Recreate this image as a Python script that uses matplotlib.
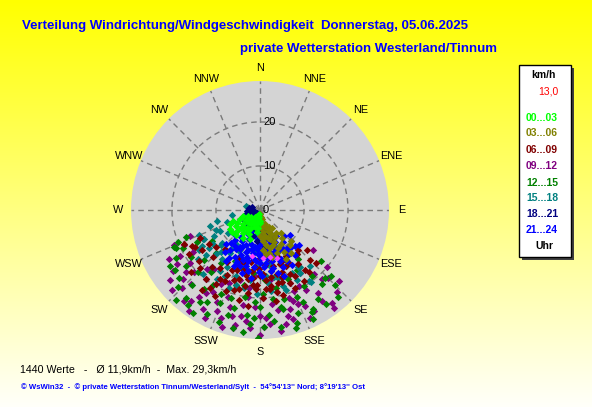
import numpy as np
import matplotlib
matplotlib.use("Agg")
import matplotlib.pyplot as plt
import matplotlib.transforms as mtransforms
from matplotlib.patches import Rectangle

plt.rcParams['font.family'] = ['Liberation Sans', 'DejaVu Sans']

# ---------------- data ----------------
directions16 = ["N", "NNE", "NE", "ENE", "E", "ESE", "SE", "SSE",
                "S", "SSW", "SW", "WSW", "W", "WNW", "NW", "NNW"]
ring_values = [0, 10, 20]
r_max = 29.3

hour_labels = ["00...03", "03...06", "06...09", "09...12",
               "12...15", "15...18", "18...21", "21...24"]
hour_colors = ["#00FF00", "#808000", "#800000", "#800080",
               "#008000", "#008080", "#000080", "#0000FF"]

# wind direction (deg, from N clockwise) and speed (km/h) per 3-hour group
dir_00_03 = [200, 210, 220, 230, 240, 235, 225, 215, 205, 195, 190, 185, 180, 188, 198, 212, 228, 238, 245, 250,
             242, 232, 218, 208, 196, 226, 216, 206, 236, 222, 202, 192, 248, 232, 186, 182, 214, 244, 224, 210]
spd_00_03 = [2, 3, 4, 5, 6, 4, 3, 5, 6, 4, 2, 1.5, 3, 5, 7, 7.5, 7, 8, 5, 4,
             3, 2.5, 2, 1.5, 1, 6, 6.5, 4.5, 6.5, 5.5, 3.5, 3, 6.5, 8.2, 4, 2.5, 3.5, 7.5, 8, 5.5]

dir_03_06 = [178, 175, 170, 165, 160, 172, 178, 168, 162, 155, 150, 145, 175, 170, 165, 160, 155, 148, 142, 138,
             180, 176, 172, 166, 158, 150, 140, 135, 168, 172, 160, 152, 146, 164, 157, 174, 168, 144, 152]
spd_03_06 = [1, 2, 3, 4, 5, 5, 4, 6, 7, 6, 7, 6.5, 7, 8, 9, 8.5, 9.5, 9, 8, 7,
             6, 9, 10, 11, 10.5, 11, 10.5, 10, 2, 1.5, 3.5, 4.5, 5, 6.5, 8, 6.5, 10, 12, 12.5]

dir_06_09 = [150, 155, 160, 165, 170, 175, 180, 185, 190, 195, 200, 205, 210, 215, 220, 225, 230, 235, 240, 245,
             145, 140, 135, 130, 152, 158, 163, 168, 173, 178, 183, 188, 193, 198, 203, 208, 213, 218, 228, 238,
             242, 216, 148, 142, 170, 180, 190, 200, 160, 175, 185, 195, 205, 165, 155, 230, 222, 137, 170, 187,
             152, 157, 162, 167, 172, 177, 182, 187, 192, 197, 202, 207, 212, 156, 166, 176, 186, 196, 206, 161,
             171, 181, 191, 201, 211, 226, 236, 143, 133, 246]
spd_06_09 = [12, 14, 13, 15, 14, 16, 15, 13, 16, 14, 17, 15, 18, 16, 17, 15, 18, 16, 17, 15,
             15, 13, 16, 14, 17, 18, 17, 19, 18, 20, 18, 19, 21, 19, 20, 22, 21, 20, 21, 19,
             17.5, 22.5, 19, 18, 11, 11, 12, 12.5, 11, 12.5, 17, 18.5, 12, 20, 16, 13, 12, 12.5, 21, 22,
             13.5, 12.5, 16, 13, 17.5, 14.5, 17, 14, 15, 16.5, 13.5, 16.5, 14, 19.5, 17, 18, 15.5, 12.5, 18, 15,
             15.5, 13.5, 17.5, 14.5, 19.5, 19, 14, 17, 17.5, 19]

dir_09_12 = [127, 137, 142, 163, 192, 198, 200, 228, 233, 130, 135, 140, 145, 150, 155, 160, 165, 170, 175, 180,
             185, 190, 195, 205, 210, 215, 220, 225, 230, 235, 240, 245, 250, 148, 158, 168, 178, 188, 208, 218,
             238, 210, 222, 172, 184, 196, 155, 170, 180, 145, 232, 215, 200, 162, 190,
             132, 138, 146, 152, 157, 163, 167, 173, 177, 183, 187, 193, 197, 203, 207, 213, 217, 223, 227, 237,
             242, 248, 153, 178, 203, 228, 143, 188, 158, 218]
spd_09_12 = [15, 25.6, 26.7, 26, 26.8, 28, 26, 23.5, 20, 20, 22, 19, 23, 21, 24, 22, 25, 23, 26, 24,
             27, 22, 25, 23, 26, 24, 27, 25, 22, 24, 21, 19, 17, 17, 18, 19, 20, 18, 19, 20,
             18, 21.5, 18, 16, 15, 16.5, 27, 28, 28.5, 15, 26, 28, 21, 21, 24.5,
             24, 21, 25, 26, 20, 23.5, 26.5, 21.5, 24.5, 22, 25.5, 27.5, 23, 25, 27.5, 22.5, 26, 23, 20.5, 22.5,
             23.5, 21, 19.5, 26.5, 18, 27, 28, 20, 23, 17]

dir_12_15 = [247, 181, 136, 154, 246, 235, 213, 188, 130, 135, 140, 145, 150, 155, 160, 165, 170, 175, 180, 185,
             190, 195, 200, 205, 210, 215, 220, 225, 230, 240, 250, 243, 236, 228, 218, 208, 198, 168, 158, 148,
             142, 176, 186, 196, 206, 216, 226, 160, 170, 150, 237, 192, 178, 163, 172,
             133, 138, 147, 152, 157, 162, 167, 173, 178, 183, 187, 193, 197, 203, 207, 212, 217, 222, 227, 233,
             238, 244, 249, 142, 168, 198, 223, 153, 183, 213]
spd_12_15 = [21.3, 29, 21.4, 27.5, 21, 23.6, 25, 28, 18, 24, 22, 26, 20, 23, 25, 21, 27, 24, 22, 26,
             20, 23, 27, 21, 24, 22, 26, 20, 24, 22, 18, 16, 19, 17, 18, 17, 18, 18, 17, 16,
             14, 16, 14.5, 14, 13, 15, 14, 13, 12.5, 12, 13, 17.5, 19, 28, 20.5,
             22, 26.5, 24, 25.5, 21.5, 27, 23, 25.5, 26.5, 21, 24, 27.5, 25, 23, 26.5, 20, 27, 23, 25.5, 21,
             24, 19.5, 20, 19, 22.5, 21, 28, 26, 24.5, 28]

dir_15_18 = [234, 243, 229, 242, 243, 260, 286, 146, 145, 145, 145, 150, 155, 160, 165, 170, 175, 180, 185, 190,
             195, 200, 205, 210, 215, 220, 225, 230, 235, 240, 250, 255, 140, 138, 152, 162, 172, 182, 192, 202,
             212, 222, 232, 170, 195, 248, 215, 160,
             148, 153, 158, 163, 168, 173, 178, 183, 188, 193, 198, 203, 208, 213, 218, 223, 228, 233, 238, 245,
             143, 157, 177, 197, 217, 237, 252, 187, 207, 167]
spd_15_18 = [13.2, 14.3, 11.4, 10.3, 14.5, 6.5, 3.3, 15.6, 20, 19.6, 15.9, 12, 14, 11, 16, 13, 15, 12, 17, 14,
             11, 16, 13, 15, 12, 17, 14, 16, 9, 12, 8, 10, 13, 17, 18, 19, 18.5, 19, 18, 19,
             18.5, 19.5, 18, 8, 8, 15, 9.5, 7,
             17, 16, 13.5, 18, 15.5, 17, 14.5, 13, 16, 15, 18, 11.5, 17, 16.5, 14, 13, 12, 14.5, 15.5, 11,
             11, 9, 10, 12.5, 11, 16.5, 12, 9.5, 10.5, 10.5]

dir_18_21 = [260, 207, 219, 187, 290, 252, 230, 240, 200, 215, 225, 245, 195, 210, 235, 250, 270, 280, 190, 220,
             205, 228, 242, 212, 198, 182, 265, 175, 165, 185, 172, 158, 195, 168,
             200, 215, 230, 245, 210, 225, 190, 238, 250, 222]
spd_18_21 = [2.3, 2.5, 4.4, 3.4, 1.9, 3.6, 3, 2, 1.5, 3.5, 2, 4, 2.8, 4, 3.8, 2.8, 1.5, 2.5, 1, 1,
             3.2, 4.2, 3, 1.8, 4.2, 2, 3, 4.5, 6, 7, 8.5, 7.5, 6, 5,
             3.8, 4.6, 4.8, 4.5, 2.2, 3.4, 3.8, 1.2, 1.2, 5.0]

dir_21_24 = [180, 175, 170, 185, 190, 195, 200, 205, 210, 215, 220, 225, 165, 160, 155, 150, 145, 140, 135, 130,
             178, 183, 188, 193, 198, 203, 208, 213, 172, 167, 162, 157, 152, 147, 142, 176, 181, 186, 191, 196,
             170, 164, 158, 180, 185, 175, 168, 160, 200, 210, 190, 172, 155, 148, 220, 228, 205, 215, 165, 195,
             182, 174, 188, 178, 150, 138, 132, 160, 200,
             154, 159, 163, 169, 173, 177, 183, 187, 192, 197, 202, 207, 212, 217, 222, 167, 179, 189, 199, 209,
             147, 143, 136, 184, 194, 171, 161, 204, 214, 176]
spd_21_24 = [5, 6, 7, 7, 6, 8, 7, 9, 8, 10, 9, 11, 8, 9, 8, 10, 9, 11, 10, 9,
             9, 10, 11, 12, 10, 11, 12, 13, 11, 12, 11, 12, 13, 12, 13, 13, 14, 13, 14, 15,
             14, 15, 14, 12, 9, 10, 9.5, 6.5, 5, 6, 4.5, 4.5, 6, 7, 12.5, 8, 14, 7.5, 10.5, 11,
             8, 12, 15.5, 15, 14.5, 8, 12, 16, 13.5,
             10, 12.5, 7, 6.5, 8, 7.5, 6, 8.5, 9, 9.5, 8.5, 10, 10.5, 11.5, 10, 13.5, 11, 10, 12, 9.5,
             11, 10.5, 11.5, 11.5, 13, 9, 10, 13, 14, 5.5]

dir_mean = [168, 190, 160, 176]
spd_mean = [11, 10.5, 11.5, 11]

groups = {
    "00...03": (dir_00_03, spd_00_03),
    "03...06": (dir_03_06, spd_03_06),
    "06...09": (dir_06_09, spd_06_09),
    "09...12": (dir_09_12, spd_09_12),
    "12...15": (dir_12_15, spd_12_15),
    "15...18": (dir_15_18, spd_15_18),
    "18...21": (dir_18_21, spd_18_21),
    "21...24": (dir_21_24, spd_21_24),
}
draw_order = ["09...12", "12...15", "15...18", "06...09", "21...24", "18...21", "03...06", "00...03"]

title1 = "Verteilung Windrichtung/Windgeschwindigkeit  Donnerstag, 05.06.2025"
title2 = "private Wetterstation Westerland/Tinnum"
stats_text = "1440 Werte   -   \u00d8 11,9km/h  -  Max. 29,3km/h"
credit_text = "\u00a9 WsWin32  -  \u00a9 private Wetterstation Tinnum/Westerland/Sylt  -  54\u00b054'13'' Nord; 8\u00b019'13'' Ost"
legend_unit = "km/h"
legend_value = "13,0"
legend_foot = "Uhr"

# ---------------- figure ----------------
W, H = 592, 407
fig = plt.figure(figsize=(W / 100, H / 100), dpi=100)

def fx(x):
    return x / W

def fy(y):
    return 1 - y / H

# background gradient (yellow -> pale)
bg = fig.add_axes([0, 0, 1, 1], zorder=-10)
t = np.linspace(0, 1, 256)[:, None]
grad = np.zeros((256, 2, 3))
grad[..., 0] = 1.0
grad[..., 1] = 1.0
grad[..., 2] = np.clip(t * 0.98, 0, 1)
bg.imshow(grad, aspect='auto', extent=[0, 1, 0, 1], origin='upper')
bg.set_axis_off()

# polar axes
cx, cy, R = 260, 210, 129
ax = fig.add_axes([fx(cx - R), fy(cy + R), 2 * R / W, 2 * R / H], projection='polar')
ax.set_theta_zero_location('N')
ax.set_theta_direction(-1)
ax.set_ylim(0, r_max)
ax.set_facecolor('#D4D4D4')
ax.spines['polar'].set_visible(False)
ax.set_xticks(np.deg2rad(np.arange(0, 360, 22.5)))
ax.set_xticklabels([])
ax.set_yticks([10, 20])
ax.set_yticklabels([])
ax.grid(True, color='#7a7a7a', linestyle=(0, (4, 3)), linewidth=1.0)
ax.tick_params(length=0)

for name in draw_order:
    d, s = groups[name]
    col = hour_colors[hour_labels.index(name)]
    ax.scatter(np.deg2rad(d), s, marker='D', s=14, color=col, linewidths=0, zorder=3)
ax.scatter(np.deg2rad(dir_mean), spd_mean, marker='D', s=10, color='#FF40FF', linewidths=0, zorder=4)

# compass labels
r_lab = r_max * 142 / R
for i, lab in enumerate(directions16):
    ax.text(np.deg2rad(i * 22.5), r_lab, lab, ha='center', va='center',
            fontsize=7.8, color='black', clip_on=False)

# ring labels
off = mtransforms.offset_copy(ax.transData, fig=fig, x=3, y=0, units='dots')
for rv in ring_values:
    ax.text(0, rv, str(rv), transform=off, ha='left', va='center', fontsize=8, color='black', zorder=5)

# titles
fig.text(fx(22), fy(26), title1, ha='left', va='center', fontsize=9.5, fontweight='bold', color='#0000FF')
fig.text(fx(497), fy(49), title2, ha='right', va='center', fontsize=9.5, fontweight='bold', color='#0000FF')

# bottom texts
fig.text(fx(20), fy(370), stats_text, ha='left', va='center', fontsize=7.7, color='black')
fig.text(fx(21), fy(387), credit_text, ha='left', va='center', fontsize=5.6, fontweight='bold', color='#0000FF')

# legend box with shadow
lx0, ly0, lx1, ly1 = 519, 65, 571, 257
fig.patches.append(Rectangle((fx(lx0 + 3), fy(ly1 + 3)), (lx1 - lx0) / W, (ly1 - ly0) / H,
                             transform=fig.transFigure, facecolor='#404040', edgecolor='none', zorder=1))
fig.patches.append(Rectangle((fx(lx0), fy(ly1)), (lx1 - lx0) / W, (ly1 - ly0) / H,
                             transform=fig.transFigure, facecolor='white', edgecolor='black', linewidth=1, zorder=2))
fig.text(fx(543.5), fy(75), legend_unit, ha='center', va='center', fontsize=7.5, fontweight='bold', color='black')
fig.text(fx(548.5), fy(92), legend_value, ha='center', va='center', fontsize=7.5, color='#FF0000')
leg_y = [118, 133, 150, 166, 183, 198, 214, 230]
for lab, col, yy in zip(hour_labels, hour_colors, leg_y):
    fig.text(fx(542), fy(yy), lab, ha='center', va='center', fontsize=7.5, fontweight='bold', color=col)
fig.text(fx(544), fy(246), legend_foot, ha='center', va='center', fontsize=7.5, fontweight='bold', color='black')

fig.savefig("out.png", dpi=100)
